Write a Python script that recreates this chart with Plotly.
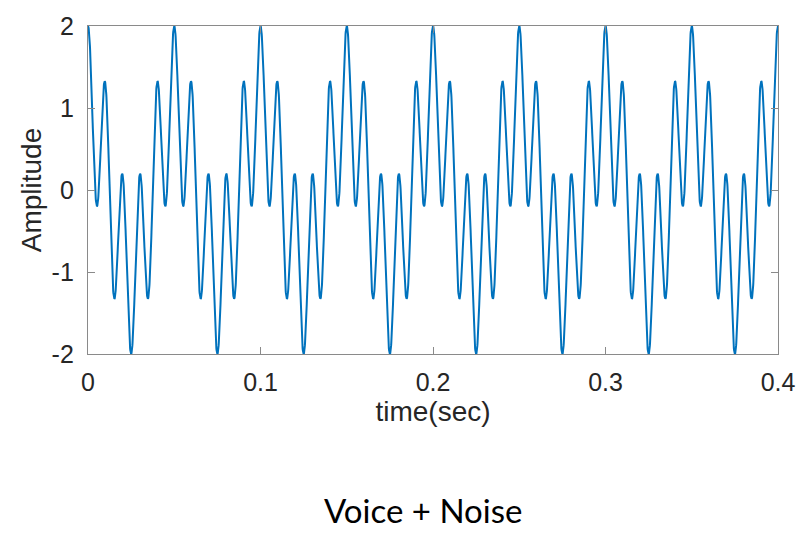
import numpy as np
import plotly.graph_objects as go

# Signal made of a low "voice" tone plus a higher "noise" tone
component_names = ["Voice", "Noise"]
component_freqs_hz = [20, 100]
component_amps = [1.0, 1.0]

t_start, t_end = 0.0, 0.4
n_samples = 4001

x_ticks = [0, 0.1, 0.2, 0.3, 0.4]
x_tick_labels = ["0", "0.1", "0.2", "0.3", "0.4"]
y_ticks = [-2, -1, 0, 1, 2]
y_tick_labels = ["-2", "-1", "0", "1", "2"]

caption = "Voice + Noise"

t = np.linspace(t_start, t_end, n_samples)
signal = np.zeros_like(t)
for f, a in zip(component_freqs_hz, component_amps):
    signal += a * np.cos(2 * np.pi * f * t)

axis_grey = "#8a8a8a"
text_grey = "#262626"
helv = "Liberation Sans, Arial, sans-serif"

fig = go.Figure()
fig.add_trace(go.Scatter(
    x=t, y=signal, mode="lines",
    line=dict(color="#0072BD", width=2),
    hoverinfo="skip", showlegend=False,
))

common_axis = dict(
    showgrid=False, zeroline=False,
    showline=True, linecolor=axis_grey, linewidth=1.3,
    mirror="ticks", ticks="inside", ticklen=7, tickwidth=1.2, tickcolor=axis_grey,
    tickfont=dict(family=helv, size=25, color=text_grey),
)

fig.update_layout(
    width=807, height=536,
    margin=dict(l=88, r=26, t=18, b=182),
    paper_bgcolor="white", plot_bgcolor="white",
    xaxis=dict(
        range=[t_start, t_end], tickvals=x_ticks, ticktext=x_tick_labels,
        title=dict(text="time(sec)", standoff=4,
                   font=dict(family=helv, size=28, color=text_grey)),
        ticklabelstandoff=6,
        **common_axis,
    ),
    yaxis=dict(
        range=[-2, 2], tickvals=y_ticks, ticktext=y_tick_labels,
        title=dict(text="Amplitude", standoff=1,
                   font=dict(family=helv, size=28, color=text_grey)),
        ticklabelstandoff=8,
        **common_axis,
    ),
    annotations=[dict(
        text=caption, xref="paper", yref="paper",
        x=(424 - 88) / (807 - 88 - 26), y=-(514 - 354) / (354 - 18),
        xanchor="center", yanchor="middle", showarrow=False,
        font=dict(family="Lato, Noto Sans, sans-serif", size=33, color="#000000"),
    )],
)

fig.write_html("out.html")
